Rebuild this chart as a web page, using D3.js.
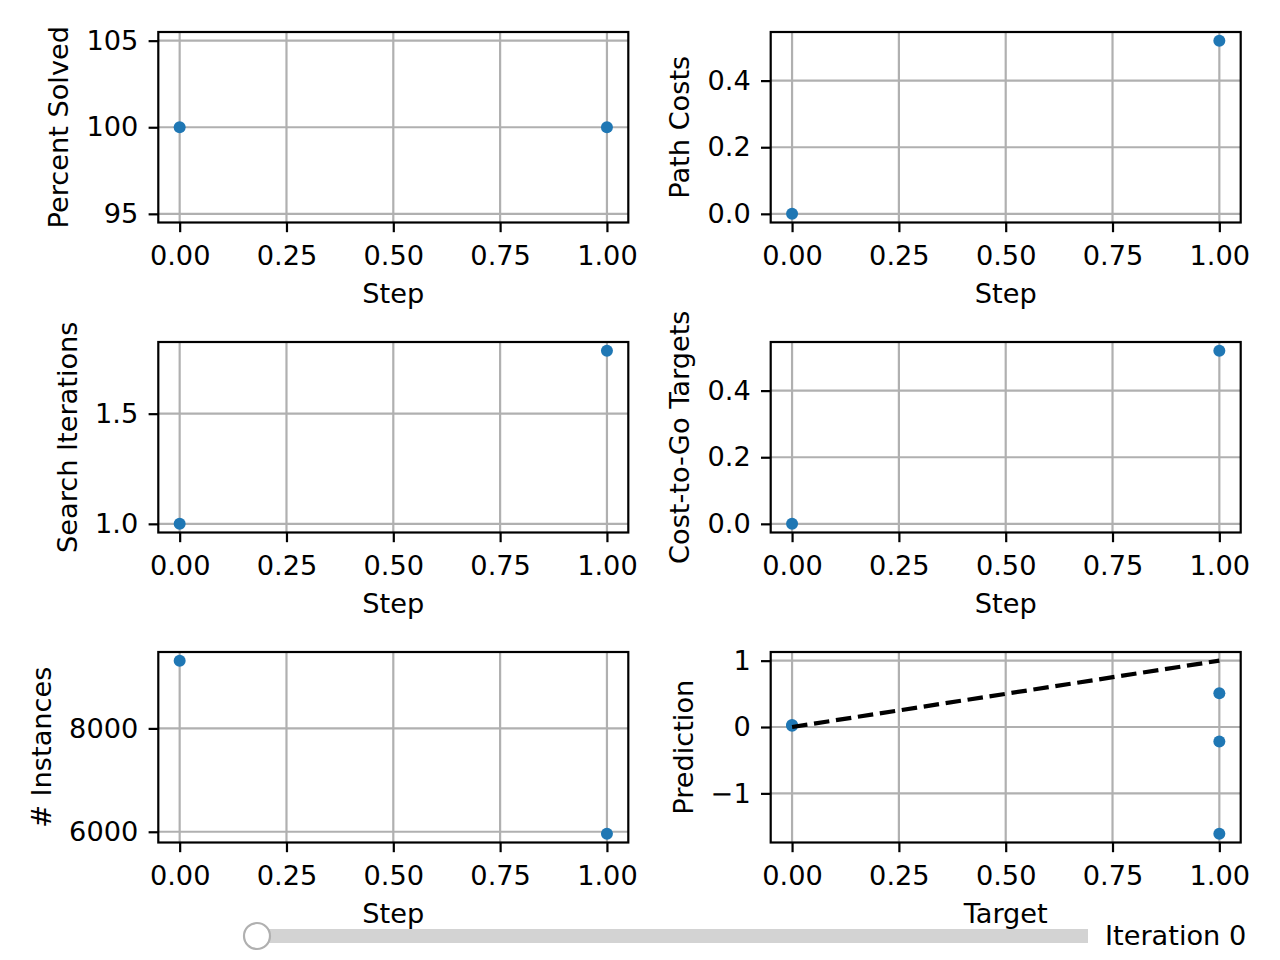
<!DOCTYPE html>
<html lang="en">
  <head>
    <meta charset="utf-8">
    <title>Training Progress</title>
    <style>
      body { margin: 0; background: white; }
      svg { display: block; }
      text { font-family: "DejaVu Sans", sans-serif; }
    </style>
    <script src="https://d3js.org/d3.v7.min.js"></script>
  </head>
  <body>
    <div class="chart"></div>
    <script>

    // values
    const steps = [0, 1];
    const percentSolved = [100, 100];
    const pathCosts = [0, 0.52];
    const searchIterations = [1.0, 1.786];
    const costToGoTargets = [0, 0.52];
    const numInstances = [9310, 5960];
    const predTargets = [0, 0, 1, 1, 1];
    const predValues = [0.03, 0.02, 0.51, -0.22, -1.61];
    const identityLine = [[0, 0], [1, 1]];

    const stepTicks = [0, 0.25, 0.5, 0.75, 1];
    const percentTicks = [95, 100, 105];
    const costTicks = [0, 0.2, 0.4];
    const iterTicks = [1.0, 1.5];
    const instanceTicks = [6000, 8000];
    const predTicks = [-1, 0, 1];

    const sliderLabel = "Iteration";
    const sliderValue = 0;
    const sliderRange = [0, 1];

    const W = 1280, H = 960;
    const fontSize = 27.2;
    const tickLen = 9.7, lw = 2.2;
    const blue = "#1f77b4", gridColor = "#b0b0b0";

    const colX = [158.3, 770.7], panelW = 470;
    const rowY = [32, 342, 652], panelH = 190.5;

    const svg = d3.select(".chart")
      .append("svg")
      .attr("width", W)
      .attr("height", H)
      .style("background-color", "white");

    // matplotlib-like autoscale with 5% margins
    const padded = vals => {
      let lo = d3.min(vals), hi = d3.max(vals);
      if (lo === hi) { lo -= Math.abs(lo) * 0.05 || 1; hi += Math.abs(hi) * 0.05 || 1; }
      const m = (hi - lo) * 0.05;
      return [lo - m, hi + m];
    };

    const minus = s => s.replace("-", "\u2212");

    const panel = (col, row, opts) => {
      const x0 = colX[col], y0 = rowY[row];
      const g = svg.append("g").attr("transform", `translate(${x0},${y0})`);

      const x = d3.scaleLinear().domain(padded(opts.xs)).range([0, panelW]);
      const y = d3.scaleLinear().domain(padded(opts.ys)).range([panelH, 0]);

      // grid
      g.append("g").selectAll("line").data(stepTicks).join("line")
        .attr("x1", d => x(d)).attr("x2", d => x(d))
        .attr("y1", 0).attr("y2", panelH)
        .attr("stroke", gridColor).attr("stroke-width", lw);
      g.append("g").selectAll("line").data(opts.yTicks).join("line")
        .attr("y1", d => y(d)).attr("y2", d => y(d))
        .attr("x1", 0).attr("x2", panelW)
        .attr("stroke", gridColor).attr("stroke-width", lw);

      // marks
      if (opts.draw) opts.draw(g, x, y);

      // axes
      const xAxis = g.append("g")
        .attr("transform", `translate(0,${panelH})`)
        .call(d3.axisBottom(x).tickValues(stepTicks).tickFormat(d3.format(".2f"))
          .tickSize(tickLen).tickPadding(13.2));
      const yAxis = g.append("g")
        .call(d3.axisLeft(y).tickValues(opts.yTicks).tickFormat(d => minus(opts.fmt(d)))
          .tickSize(tickLen).tickPadding(10.3));

      [xAxis, yAxis].forEach(a => {
        a.select(".domain").remove();
        a.selectAll("line").attr("stroke", "black").attr("stroke-width", lw);
        a.selectAll("text")
          .style("font-family", "DejaVu Sans")
          .style("font-size", fontSize + "px")
          .attr("fill", "black");
      });

      // frame
      g.append("rect")
        .attr("width", panelW).attr("height", panelH)
        .attr("fill", "none").attr("stroke", "black").attr("stroke-width", lw);

      // x label
      g.append("text")
        .attr("x", panelW / 2)
        .attr("y", panelH + 80.7)
        .attr("text-anchor", "middle")
        .style("font-size", fontSize + "px")
        .text(opts.xLabel);

      // y label, placed left of the widest tick label
      let maxW = 0;
      yAxis.selectAll("text").each(function() { maxW = Math.max(maxW, this.getBBox().width); });
      const lx = -(tickLen + 10.3 + maxW + 18);
      g.append("text")
        .attr("transform", `translate(${lx},${panelH / 2}) rotate(-90)`)
        .attr("text-anchor", "middle")
        .style("font-size", fontSize + "px")
        .text(opts.yLabel);
    };

    const dots = ys => (g, x, y) => {
      g.selectAll("circle.pt").data(ys).join("circle")
        .attr("class", "pt")
        .attr("cx", (d, i) => x(steps[i]))
        .attr("cy", d => y(d))
        .attr("r", 6)
        .attr("fill", blue);
    };

    panel(0, 0, { xs: steps, ys: percentSolved, yTicks: percentTicks, fmt: d3.format("d"),
      xLabel: "Step", yLabel: "Percent Solved", draw: dots(percentSolved) });
    panel(1, 0, { xs: steps, ys: pathCosts, yTicks: costTicks, fmt: d3.format(".1f"),
      xLabel: "Step", yLabel: "Path Costs", draw: dots(pathCosts) });
    panel(0, 1, { xs: steps, ys: searchIterations, yTicks: iterTicks, fmt: d3.format(".1f"),
      xLabel: "Step", yLabel: "Search Iterations", draw: dots(searchIterations) });
    panel(1, 1, { xs: steps, ys: costToGoTargets, yTicks: costTicks, fmt: d3.format(".1f"),
      xLabel: "Step", yLabel: "Cost-to-Go Targets", draw: dots(costToGoTargets) });
    panel(0, 2, { xs: steps, ys: numInstances, yTicks: instanceTicks, fmt: d3.format("d"),
      xLabel: "Step", yLabel: "# Instances", draw: dots(numInstances) });
    panel(1, 2, {
      xs: predTargets.concat(identityLine.map(d => d[0])),
      ys: predValues.concat(identityLine.map(d => d[1])),
      yTicks: predTicks, fmt: d3.format("d"),
      xLabel: "Target", yLabel: "Prediction",
      draw: (g, x, y) => {
        g.selectAll("circle.pt").data(predValues).join("circle")
          .attr("class", "pt")
          .attr("cx", (d, i) => x(predTargets[i]))
          .attr("cy", d => y(d))
          .attr("r", 6)
          .attr("fill", blue);
        g.append("path")
          .datum(identityLine)
          .attr("d", d3.line().x(d => x(d[0])).y(d => y(d[1])))
          .attr("fill", "none")
          .attr("stroke", "black")
          .attr("stroke-width", 4.2)
          .attr("stroke-dasharray", "15.5,6.7");
      }
    });

    // slider
    const sx = d3.scaleLinear().domain(sliderRange).range([257, 1088]);
    const slider = svg.append("g");
    slider.append("rect")
      .attr("x", sx(sliderRange[0]))
      .attr("y", 929)
      .attr("width", sx(sliderRange[1]) - sx(sliderRange[0]))
      .attr("height", 14)
      .attr("fill", "#d3d3d3");
    slider.append("circle")
      .attr("cx", sx(sliderValue))
      .attr("cy", 936)
      .attr("r", 13)
      .attr("fill", "white")
      .attr("stroke", "#b0b0b0")
      .attr("stroke-width", 2.2);
    slider.append("text")
      .attr("x", 1105)
      .attr("y", 935)
      .attr("dy", "0.35em")
      .style("font-size", fontSize + "px")
      .text(`${sliderLabel} ${sliderValue}`);
    </script>
  </body>
</html>
